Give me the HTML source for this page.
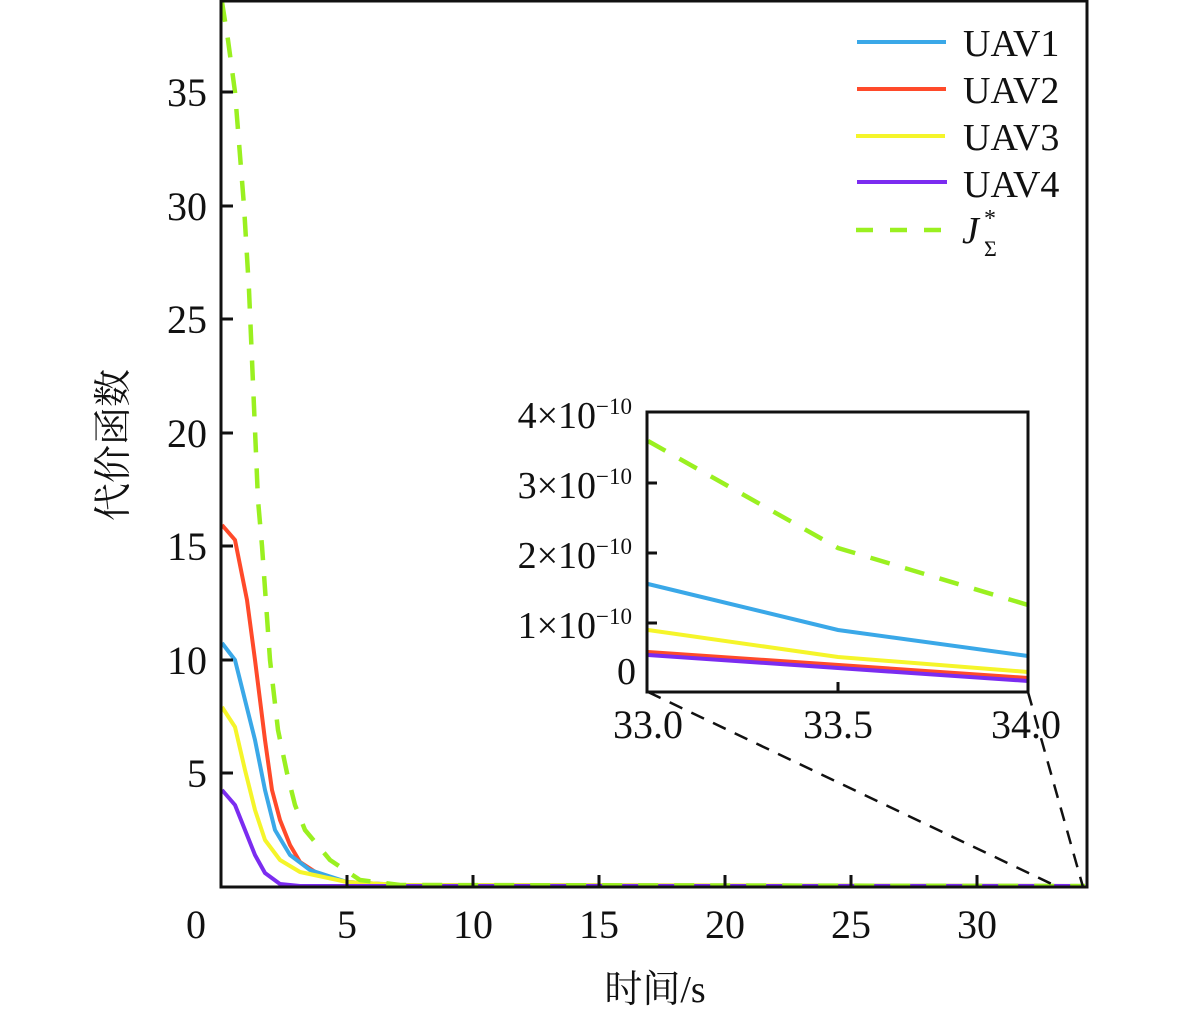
<!DOCTYPE html>
<html><head><meta charset="utf-8"><style>
body{margin:0;background:#fff}
svg,text,tspan{font-family:"Liberation Serif","Times New Roman","Noto Serif CJK SC",serif}
text{fill:#111}
</style></head><body>
<svg width="1181" height="1015" viewBox="0 0 1181 1015" xmlns="http://www.w3.org/2000/svg" font-family="'Liberation Serif', 'Noto Serif CJK SC', serif">
<g fill="none" stroke-width="4" stroke-linejoin="round">
<polyline stroke="#ff4a2a" points="222,525 235,540 247,600 255,660 265,740 272,790 280,820 290,845 300,862 320,875 347,882 400,885 1085,886"/>
<polyline stroke="#3aa8e8" points="222,643 235,660 245,700 255,740 265,790 275,830 290,855 310,870 347,882 400,885 1085,886"/>
<polyline stroke="#f5f52a" points="222,707 235,727 245,770 255,810 265,840 280,860 300,872 347,882 400,885 1085,886"/>
<polyline stroke="#7b2cf0" points="222,790 235,805 245,830 255,855 265,873 280,884 300,886 1085,886"/>
<polyline stroke="#9af020" stroke-width="4.5" stroke-dasharray="20,16" points="222,2 228,40 235,92 244,206 249,290 258,500 262,546 270,660 278,730 287,773 295,805 305,830 330,860 360,880 400,885 1085,886"/>
</g>
<g stroke="#111" stroke-width="3" fill="none">
<rect x="221" y="1" width="866" height="886"/>
<path d="M221 92h12M221 206h12M221 319h12M221 433h12M221 546h12M221 660h12M221 773h12M347 887v-12M473 887v-12M599 887v-12M725 887v-12M851 887v-12M977 887v-12"/>
</g>
<g stroke="#111" stroke-width="2.5" stroke-dasharray="14,10" fill="none">
<line x1="648" y1="692" x2="1058" y2="887"/>
<line x1="1028" y1="692" x2="1083" y2="887"/>
</g>
<rect x="647" y="412" width="381" height="280" fill="#fff"/>
<g fill="none" stroke-width="4">
<polyline stroke="#9af020" stroke-width="4.5" stroke-dasharray="20,16" points="648,441 838,548 1028,605"/>
<polyline stroke="#3aa8e8" points="648,584 838,630 1028,656"/>
<polyline stroke="#f5f52a" points="648,630 838,657 1028,672"/>
<polyline stroke="#ff4a2a" points="648,652 1028,678"/>
<polyline stroke="#7b2cf0" points="648,655 1028,681"/>
</g>
<g stroke="#111" stroke-width="3" fill="none">
<rect x="647" y="412" width="381" height="280"/>
<path d="M647 483h10M647 553h10M647 623h10M838 692v-10"/>
</g>
<g font-size="40" text-anchor="end">
<text x="207" y="106">35</text><text x="207" y="220">30</text><text x="207" y="333">25</text>
<text x="207" y="447">20</text><text x="207" y="560">15</text><text x="207" y="674">10</text>
<text x="207" y="787">5</text>
</g>
<g font-size="40" text-anchor="middle">
<text x="196" y="938">0</text><text x="347" y="938">5</text><text x="473" y="938">10</text>
<text x="599" y="938">15</text><text x="725" y="938">20</text><text x="851" y="938">25</text>
<text x="977" y="938">30</text>
<text x="648" y="738">33.0</text><text x="838" y="738">33.5</text><text x="1026" y="738">34.0</text>
</g>
<g font-size="38" text-anchor="end">
<text x="632" y="428">4×10<tspan font-size="23" dy="-14">−10</tspan></text>
<text x="632" y="498">3×10<tspan font-size="23" dy="-14">−10</tspan></text>
<text x="632" y="568">2×10<tspan font-size="23" dy="-14">−10</tspan></text>
<text x="632" y="638">1×10<tspan font-size="23" dy="-14">−10</tspan></text>
<text x="636" y="684">0</text>
</g>
<g stroke-width="4">
<line x1="857" y1="42" x2="946" y2="42" stroke="#3aa8e8"/>
<line x1="857" y1="89" x2="946" y2="89" stroke="#ff4a2a"/>
<line x1="856" y1="136" x2="945" y2="136" stroke="#f5f52a"/>
<line x1="857" y1="182" x2="947" y2="182" stroke="#7b2cf0"/>
<line x1="856" y1="230" x2="946" y2="230" stroke="#9af020" stroke-width="4.5" stroke-dasharray="17,17"/>
</g>
<g font-size="38">
<text x="963" y="56">UAV1</text><text x="963" y="103">UAV2</text>
<text x="963" y="150">UAV3</text><text x="963" y="197">UAV4</text>
<text x="962" y="243" font-style="italic">J</text>
<text x="984" y="226" font-size="24">*</text>
<text x="984" y="256" font-size="22">Σ</text>
</g>
<text x="655" y="1002" font-size="38" text-anchor="middle">时间/s</text>
<text transform="translate(126,445) rotate(-90)" font-size="38" text-anchor="middle">代价函数</text>
</svg>
</body></html>
